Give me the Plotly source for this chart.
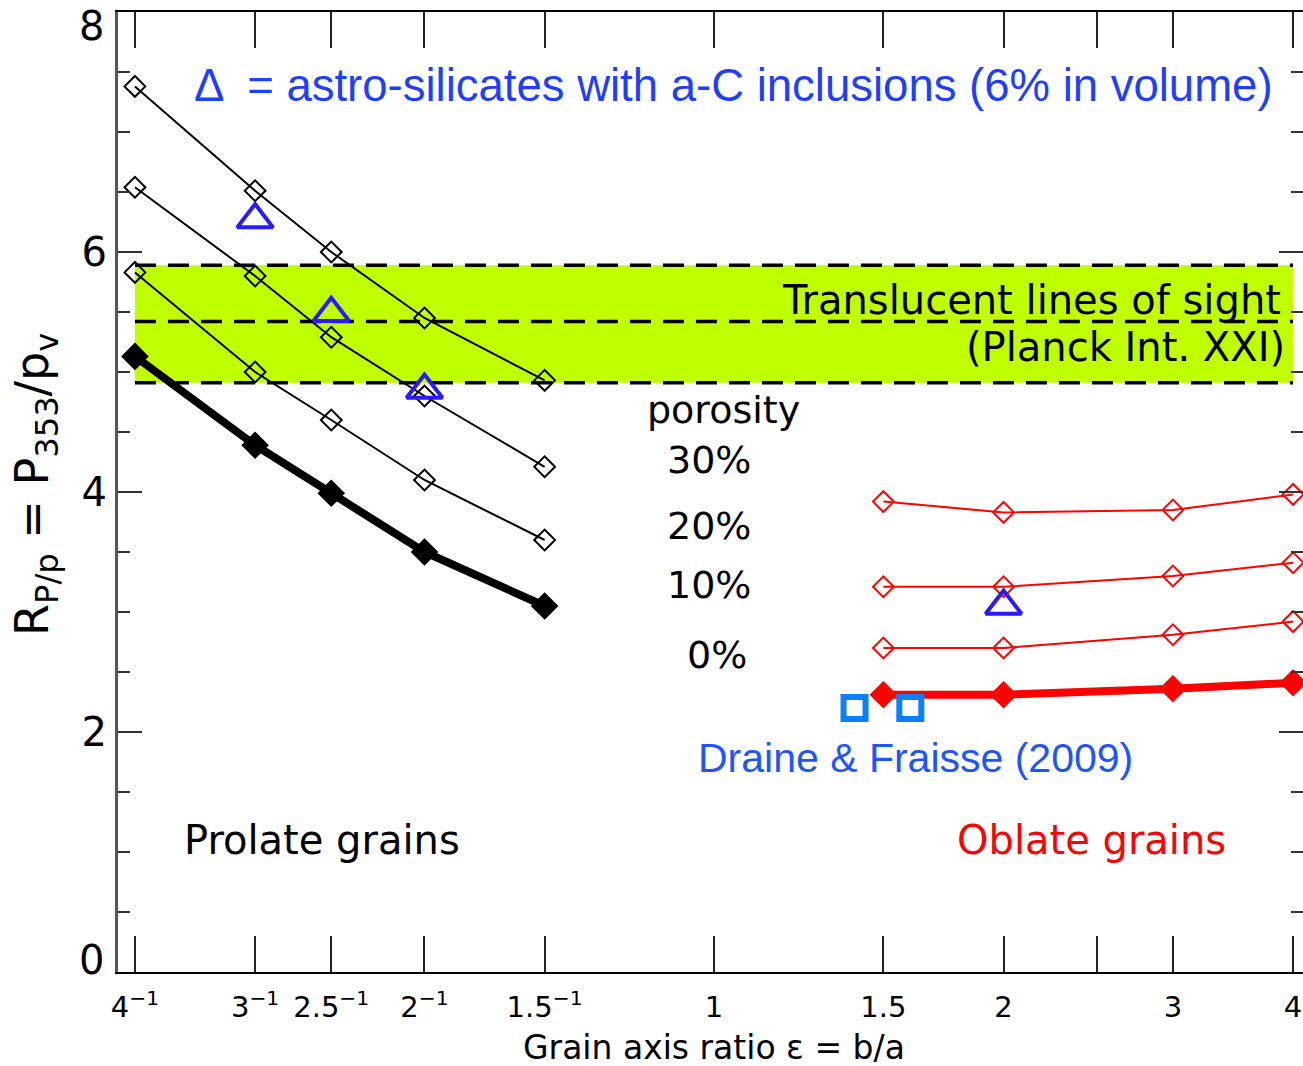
import plotly.graph_objects as go

# Grain axis ratio for prolate (eps < 1) and oblate (eps > 1) grains
eps_prolate = [1 / 4, 1 / 3, 1 / 2.5, 1 / 2, 1 / 1.5]
eps_oblate = [1.5, 2, 3, 4]

# R_P/p for each porosity (prolate grains)
prolate_30 = [7.38, 6.51, 6.00, 5.45, 4.93]
prolate_20 = [6.54, 5.80, 5.29, 4.80, 4.21]
prolate_10 = [5.83, 5.00, 4.60, 4.10, 3.60]
prolate_00 = [5.13, 4.39, 3.99, 3.50, 3.05]

# R_P/p for each porosity (oblate grains)
oblate_30 = [3.92, 3.83, 3.85, 3.98]
oblate_20 = [3.21, 3.21, 3.30, 3.41]
oblate_10 = [2.70, 2.70, 2.81, 2.92]
oblate_00 = [2.31, 2.31, 2.36, 2.41]

# astro-silicates with a-C inclusions
eps_acs = [1 / 3, 1 / 2.5, 1 / 2, 2]
r_acs = [6.27, 5.49, 4.85, 3.05]

# Draine & Fraisse (2009)
eps_df = [1.4, 1.6]
r_df = [2.2, 2.2]

# Planck Int. XXI translucent lines of sight
band_eps = [1 / 4, 4]
band_low, band_mid, band_high = 4.91, 5.42, 5.89

tick_vals = [1 / 4, 1 / 3, 1 / 2.5, 1 / 2, 1 / 1.5, 1, 1.5, 2, 2.5, 3, 4]
tick_text = ["4<sup>−1</sup>", "3<sup>−1</sup>", "2.5<sup>−1</sup>", "2<sup>−1</sup>",
             "1.5<sup>−1</sup>", "1", "1.5", "2", "", "3", "4"]
y_tick_vals = [0, 2, 4, 6, 8]
y_tick_text = ["0", "2", "4", "6", "8"]

FONT = "DejaVu Sans"
SANS = "Liberation Sans"
W, H = 1303, 1066
L, R, T, B = 118, 0, 12, 94


def px(xp):
    return (xp - L) / (W - L - R)


def py(yp):
    return (H - B - yp) / (H - T - B)


fig = go.Figure()

# observational band
fig.add_trace(go.Scatter(
    x=[band_eps[0], band_eps[1], band_eps[1], band_eps[0]],
    y=[band_low, band_low, band_high, band_high],
    fill="toself", fillcolor="#bfff00", mode="none", hoverinfo="skip"))
for yv in (band_low, band_mid, band_high):
    fig.add_trace(go.Scatter(
        x=band_eps, y=[yv, yv], mode="lines",
        line=dict(color="black", width=3.5, dash="21px,12px"), hoverinfo="skip"))

# model curves
for series, col, eps in [
    (prolate_30, "black", eps_prolate),
    (prolate_20, "black", eps_prolate),
    (prolate_10, "black", eps_prolate),
    (oblate_30, "red", eps_oblate),
    (oblate_20, "red", eps_oblate),
    (oblate_10, "red", eps_oblate),
]:
    fig.add_trace(go.Scatter(
        x=eps, y=series, mode="lines+markers",
        line=dict(color=col, width=2),
        marker=dict(symbol="diamond-open", size=16, color=col, line=dict(width=2, color=col))))

for series, col, eps in [(prolate_00, "black", eps_prolate), (oblate_00, "red", eps_oblate)]:
    fig.add_trace(go.Scatter(
        x=eps, y=series, mode="lines+markers",
        line=dict(color=col, width=8),
        marker=dict(symbol="diamond", size=18, color=col, line=dict(width=3, color=col))))

fig.add_trace(go.Scatter(
    x=eps_acs, y=r_acs, mode="markers",
    marker=dict(symbol="triangle-up-open", size=31, color="#2a1bff",
                line=dict(width=4, color="#2a1bff"))))

fig.add_trace(go.Scatter(
    x=eps_df, y=r_df, mode="markers",
    marker=dict(symbol="square-open", size=22, color="#0a80ff",
                line=dict(width=6, color="#0a80ff"))))

ann = []


def text(x, y, s, size, color="black", family=FONT, xanchor="left", angle=0):
    ann.append(dict(x=px(x), y=py(y), xref="paper", yref="paper", text=s, showarrow=False,
                    xanchor=xanchor, yanchor="middle", textangle=angle,
                    font=dict(size=size, color=color, family=family)))


text(1275, 86, "Δ  = astro-silicates with a-C inclusions (6% in volume)", 45.5,
     color="#1f3fff", family=SANS, xanchor="right")
text(1283, 300, "Translucent lines of sight", 40, xanchor="right")
text(1287, 347, "(Planck Int. XXI)", 40, xanchor="right")
text(724, 410, "porosity", 38, xanchor="center")
text(709, 460, "30%", 38, xanchor="center")
text(709, 526, "20%", 38, xanchor="center")
text(709, 585, "10%", 38, xanchor="center")
text(717, 655, "0%", 38, xanchor="center")
text(915, 758, "Draine & Fraisse (2009)", 41, color="#1f55ff",
     family=SANS, xanchor="center")
text(322, 840, "Prolate grains", 40, xanchor="center")
text(1091, 840, "Oblate grains", 40, color="red", xanchor="center")
text(714, 1047, "Grain axis ratio ε = b/a", 33, xanchor="center")
text(35, 485, "R<sub>P/p</sub> = P<sub>353</sub>/p<sub>v</sub>", 46, xanchor="center", angle=-90)
# end labels of the y axis sit inside the frame, as in the IDL layout
text(106, 26, y_tick_text[-1], 40, xanchor="right")
text(106, 960, y_tick_text[0], 40, xanchor="right")

fig.update_layout(
    width=W, height=H,
    margin=dict(l=L, r=R, t=T, b=B),
    paper_bgcolor="white", plot_bgcolor="white",
    showlegend=False,
    annotations=ann,
    xaxis=dict(
        type="log", range=[(L - 714) / 961.8, (W - R - 714) / 961.8],
        tickvals=tick_vals, ticktext=tick_text, automargin=False,
        ticks="inside", ticklen=36, tickwidth=2, tickcolor="#222",
        showline=True, linecolor="black", linewidth=2, mirror="ticks",
        showgrid=False, zeroline=False, ticklabelstandoff=8,
        tickfont=dict(family=FONT, size=29, color="black"),
    ),
    yaxis=dict(
        range=[0, 8], tickvals=y_tick_vals,
        ticktext=[""] + y_tick_text[1:-1] + [""], automargin=False,
        ticks="inside", ticklen=24, tickwidth=2, tickcolor="#333",
        minor=dict(dtick=0.5, ticks="inside", ticklen=12, tickwidth=2, tickcolor="#333"),
        showline=True, linecolor="#555", linewidth=3, mirror="ticks",
        showgrid=False, zeroline=False,
        tickfont=dict(family=FONT, size=40, color="black"),
    ),
)

fig.write_html("out.html")
